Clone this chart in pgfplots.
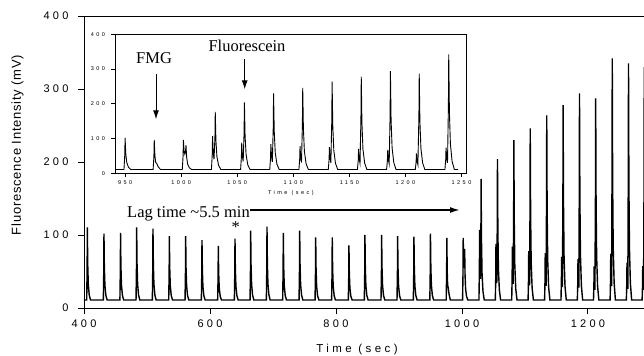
\documentclass[border=0pt]{standalone}
\usepackage{fontspec}
\setmainfont{Liberation Serif}
\newfontfamily\tickfont[LetterSpace=30]{Liberation Sans}
\newfontfamily\insetfont[LetterSpace=45]{Liberation Sans}
\newfontfamily\labelfont[LetterSpace=30]{Liberation Sans}
\newfontfamily\ylabfont[LetterSpace=6]{Liberation Sans}
\usepackage{pgfplots}
\pgfplotsset{compat=1.18}
\usepackage{pgfplotstable}
\usetikzlibrary{arrows.meta}

\pgfplotstableread{
t y
400 11
404.3 11
405.0 55.8
405.3 110.5
405.9 60.8
406.8 32.9
408.3 18.0
410.3 11
430.7 11
431.4 52.0
431.7 102
432.3 56.5
433.2 31.0
434.7 17.4
436.7 11
457.0 11
457.7 52.4
458.0 103
458.6 57.0
459.5 31.2
461.0 17.4
463.0 11
482.6 11
483.3 55.8
483.6 110.5
484.2 60.8
485.1 32.9
486.6 18.0
488.6 11
508.5 11
509.2 54.9
509.5 108.6
510.1 59.8
511.0 32.5
512.5 17.8
514.5 11
534.5 11
535.2 50.4
535.5 98.6
536.1 54.8
537.0 30.3
538.5 17.1
540.5 11
560.4 11
561.1 50.4
561.4 98.6
562.0 54.8
562.9 30.3
564.4 17.1
566.4 11
586.3 11
587.0 47.9
587.3 93
587.9 52.0
588.8 29.0
590.3 16.7
592.3 11
612.2 11
612.9 44.3
613.2 85
613.8 48.0
614.7 27.3
616.2 16.2
618.2 11
638.7 11
639.4 48.8
639.7 95
640.3 53.0
641.2 29.5
642.7 16.9
644.7 11
663.6 11
664.3 53.8
664.6 106
665.2 58.5
666.1 31.9
667.6 17.7
669.6 11
689.5 11
690.2 56.2
690.5 111.4
691.1 61.2
692.0 33.1
693.5 18.0
695.5 11
715.4 11
716.1 52.4
716.4 103
717.0 57.0
717.9 31.2
719.4 17.4
721.4 11
741.4 11
742.1 53.8
742.4 106
743.0 58.5
743.9 31.9
745.4 17.7
747.4 11
766.8 11
767.5 49.6
767.8 96.8
768.4 53.9
769.3 29.9
770.8 17.0
772.8 11
793.1 11
793.8 49.6
794.1 96.8
794.7 53.9
795.6 29.9
797.1 17.0
799.1 11
819.6 11
820.3 44.7
820.6 85.8
821.2 48.4
822.1 27.5
823.6 16.2
825.6 11
845.0 11
845.7 51.1
846.0 100
846.6 55.5
847.5 30.6
849.0 17.2
851.0 11
871.5 11
872.2 51.1
872.5 100
873.1 55.5
874.0 30.6
875.5 17.2
877.5 11
896.9 11
897.6 50.4
897.9 98.6
898.5 54.8
899.4 30.3
900.9 17.1
902.9 11
922.8 11
923.5 50.0
923.8 97.7
924.4 54.4
925.3 30.1
926.8 17.1
928.8 11
941.0 11
949.0 11
949.7 52.0
950.0 102
950.6 56.5
951.5 31.0
953.0 17.4
955.0 11
975.0 11
975.7 49.3
976.0 96
976.6 50
977.3 31
978.2 28
979.5 19
981.5 11
1001.0 11
1001.7 49.3
1002.0 96
1002.6 62
1003.3 55
1004.0 68
1004.3 81
1004.9 46
1005.8 26.4
1007.3 15.9
1009.3 11
1027.0 11
1027.7 54.2
1028.0 107
1028.6 59
1029.3 40
1030.1 102.3
1030.4 177
1031.0 94
1031.9 47.5
1033.4 22.6
1035.4 11
1053.0 11
1053.7 45.7
1054.0 88
1054.6 49.5
1055.3 34.1
1056.1 117.2
1056.4 204
1057.0 107.5
1057.9 53.5
1059.4 24.5
1061.4 11
1079.0 11
1079.7 43.9
1080.0 84
1080.6 47.5
1081.3 32.9
1082.1 131.5
1082.4 230
1083.0 120.5
1083.9 59.2
1085.4 26.3
1087.4 11
1105.0 11
1105.7 41.2
1106.0 78
1106.6 44.5
1107.3 31.1
1108.1 140.3
1108.4 246
1109.0 128.5
1109.9 62.7
1111.4 27.5
1113.4 11
1131.2 11
1131.9 39.8
1132.2 75
1132.8 43.0
1133.5 30.2
1134.3 150.2
1134.6 264
1135.2 137.5
1136.1 66.7
1137.6 28.7
1139.6 11
1157.2 11
1157.9 37.6
1158.2 70
1158.8 40.5
1159.5 28.7
1160.3 157.9
1160.6 278
1161.2 144.5
1162.1 69.7
1163.6 29.7
1165.6 11
1183.2 11
1183.9 36.2
1184.2 67
1184.8 39.0
1185.5 27.8
1186.3 166.7
1186.6 294
1187.2 152.5
1188.1 73.3
1189.6 30.8
1191.6 11
1208.8 11
1209.5 31.7
1209.8 57
1210.4 34.0
1211.1 24.8
1212.0 162.8
1212.3 287
1212.9 149.0
1213.8 71.7
1215.3 30.3
1217.3 11
1235.2 11
1235.9 39.4
1236.2 74
1236.8 42.5
1237.5 29.9
1238.3 193.0
1238.6 342
1239.2 176.5
1240.1 83.8
1241.6 34.2
1243.6 11
1247.0 11
1261.0 11
1261.7 34.0
1262.0 62
1262.6 36.5
1263.3 26.3
1264.1 189.2
1264.4 335
1265.0 173.0
1265.9 82.3
1267.4 33.7
1269.4 11
1286.0 11
1286.7 31.9
1287.0 57.5
1287.6 34.2
1288.3 25
1289.1 180
1289.4 330
1290.0 170
1291.0 80
1293.0 11
}\signal

\begin{document}
\begin{tikzpicture}
\begin{axis}[
  at={(0,0)}, anchor=south west,
  scale only axis, width=560bp, height=292bp,
  xmin=400, xmax=1289, ymin=0, ymax=400,
  axis x line=box, axis y line=left,
  axis line style={-, line width=0.9bp, black},
  xtick={400,600,...,1200}, ytick={0,100,...,400},
  xtick pos=left, ytick pos=left, tick align=outside,
  major tick length=6bp, tick style={black, line width=0.9bp},
  /pgf/number format/assume math mode=true,
  /pgf/number format/1000 sep={},
  ticklabel style={font=\tickfont\fontsize{11bp}{13bp}\selectfont},
  yticklabel shift=6bp,
  xticklabel shift=2.5bp,
  xlabel={Time (sec)},
  ylabel={Fluorescence Intensity (mV)},
  xlabel style={font=\labelfont\fontsize{11.5bp}{13bp}\selectfont, at={(axis description cs:0.4875,-0.1438)}, anchor=center},
  ylabel style={font=\ylabfont\fontsize{13bp}{15bp}\selectfont, at={(axis description cs:-0.1188,0.558)}, anchor=center},
]
\addplot[black, line width=1.4bp] table[x=t, y=y] {\signal};
\end{axis}

\begin{axis}[
  at={(31bp,134.7bp)}, anchor=south west,
  scale only axis, width=351bp, height=139bp,
  xmin=941, xmax=1254, ymin=0, ymax=400,
  axis background/.style={fill=white},
  axis line style={line width=0.8bp, black},
  xtick={950,1000,...,1250}, ytick={0,100,...,400},
  xtick pos=left, ytick pos=left, tick align=outside,
  major tick length=3.5bp, tick style={black, line width=0.7bp},
  /pgf/number format/assume math mode=true,
  /pgf/number format/1000 sep={},
  ticklabel style={font=\insetfont\fontsize{5.5bp}{6.5bp}\selectfont},
  yticklabel shift=3bp,
  xlabel={Time (sec)},
  xlabel style={font=\insetfont\fontsize{5.5bp}{6.5bp}\selectfont, at={(axis description cs:0.501,-0.142)}, anchor=center},
]
\addplot[black, line width=0.9bp, restrict x to domain=941:1247] table[x=t, y=y] {\signal};
\end{axis}

% annotations
\node[anchor=base west, inner sep=0, font=\fontsize{16.5bp}{18bp}\selectfont] at (43bp,90.7bp) {Lag time \textasciitilde 5.5 min};
\draw[line width=1.6bp, -{Latex[length=10bp,width=6bp]}] (166bp,98bp) -- (376bp,98bp);
\node[anchor=north, inner sep=0, font=\fontsize{16.5bp}{18bp}\selectfont] at (151.7bp,86.3bp) {*};
\node[anchor=base west, inner sep=0, font=\fontsize{16.5bp}{18bp}\selectfont] at (52bp,244.7bp) {FMG};
\node[anchor=base west, inner sep=0, font=\fontsize{16.5bp}{18bp}\selectfont] at (124.3bp,256.3bp) {Fluorescein};
\draw[line width=1bp, -{Latex[length=9bp,width=6bp]}] (72bp,234bp) -- (72bp,188.7bp);
\draw[line width=1bp, -{Latex[length=9bp,width=6bp]}] (160.7bp,248.7bp) -- (160.7bp,218.7bp);

\pgfresetboundingbox
\path[use as bounding box] (-84bp,-48bp) rectangle (560bp,308bp);
\end{tikzpicture}
\end{document}
